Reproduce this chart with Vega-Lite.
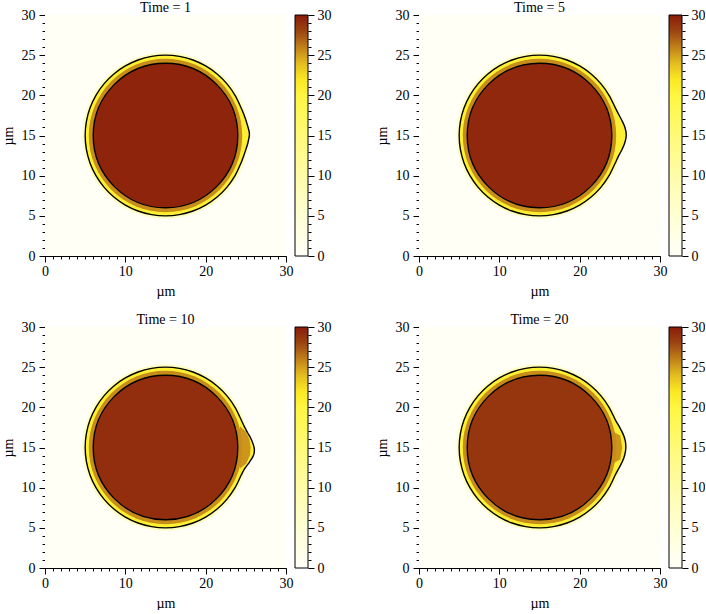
{
  "$schema": "https://vega.github.io/schema/vega-lite/v6.json",
  "background": "white",
  "padding": {"left": 1, "top": 1, "right": 0, "bottom": 0},
  "autosize": {"type": "pad"},
  "config": {
    "view": {"stroke": null},
    "font": "Liberation Serif",
    "axis": {"labelFont": "Liberation Serif", "labelFontSize": 14, "labelColor": "black", "titleFont": "Liberation Serif", "titleFontSize": 14, "titleFontWeight": "normal", "titleColor": "black", "tickColor": "black", "domainColor": "black", "grid": false, "labelFlush": false, "labelOverlap": false, "tickWidth": 1, "domainWidth": 1},
    "title": {"font": "Liberation Serif", "fontSize": 14, "fontWeight": "normal", "color": "black", "offset": -7, "frame": "group"}
  },
  "datasets": {
    "bg": [{"x0": 0, "x1": 30, "y0": 0, "y1": 30, "v": 0.4}],
    "cb": [{"lo": 0, "hi": 30, "xa": 0, "xb": 1}],
    "circ": [
      {"t": 1, "k": "halo", "cx": 15, "cy": 15, "r": 10.35, "v": 7},
      {"t": 1, "k": "band", "cx": 15, "cy": 15, "r": 9.55, "v": 25.6},
      {"t": 1, "k": "disk", "cx": 15, "cy": 15, "r": 9, "v": 29.6},
      {"t": 5, "k": "halo", "cx": 15, "cy": 15, "r": 10.35, "v": 7},
      {"t": 5, "k": "band", "cx": 15, "cy": 15, "r": 9.55, "v": 25.6},
      {"t": 5, "k": "disk", "cx": 15, "cy": 15, "r": 9, "v": 29.4},
      {"t": 10, "k": "halo", "cx": 15, "cy": 15, "r": 10.35, "v": 7},
      {"t": 10, "k": "band", "cx": 15, "cy": 15, "r": 9.55, "v": 25.6},
      {"t": 10, "k": "disk", "cx": 15, "cy": 15, "r": 9, "v": 29.1},
      {"t": 20, "k": "halo", "cx": 15, "cy": 15, "r": 10.35, "v": 7},
      {"t": 20, "k": "band", "cx": 15, "cy": 15, "r": 9.55, "v": 25.6},
      {"t": 20, "k": "disk", "cx": 15, "cy": 15, "r": 9, "v": 28.7}
    ],
    "patch": [
      {"t": 10, "o": 1, "px": 24.3, "py": 17.6},
      {"t": 10, "o": 2, "px": 25.0, "py": 17.0},
      {"t": 10, "o": 3, "px": 25.45, "py": 16.0},
      {"t": 10, "o": 4, "px": 25.6, "py": 15.0},
      {"t": 10, "o": 5, "px": 25.5, "py": 14.0},
      {"t": 10, "o": 6, "px": 25.05, "py": 13.0},
      {"t": 10, "o": 7, "px": 24.3, "py": 12.4},
      {"t": 10, "o": 8, "px": 23.8, "py": 15.0},
      {"t": 20, "o": 1, "px": 24.3, "py": 16.9},
      {"t": 20, "o": 2, "px": 25.05, "py": 16.5},
      {"t": 20, "o": 3, "px": 25.3, "py": 15.0},
      {"t": 20, "o": 4, "px": 25.05, "py": 13.5},
      {"t": 20, "o": 5, "px": 24.3, "py": 13.1},
      {"t": 20, "o": 6, "px": 23.8, "py": 15.0}
    ],
    "outline": [
      {"t": 0, "o": 30, "px": 23.66, "py": 20.0},
      {"t": 0, "o": 40, "px": 22.66, "py": 21.43},
      {"t": 0, "o": 50, "px": 21.43, "py": 22.66},
      {"t": 0, "o": 60, "px": 20.0, "py": 23.66},
      {"t": 0, "o": 70, "px": 18.42, "py": 24.4},
      {"t": 0, "o": 80, "px": 16.74, "py": 24.85},
      {"t": 0, "o": 90, "px": 15.0, "py": 25.0},
      {"t": 0, "o": 100, "px": 13.26, "py": 24.85},
      {"t": 0, "o": 110, "px": 11.58, "py": 24.4},
      {"t": 0, "o": 120, "px": 10.0, "py": 23.66},
      {"t": 0, "o": 130, "px": 8.57, "py": 22.66},
      {"t": 0, "o": 140, "px": 7.34, "py": 21.43},
      {"t": 0, "o": 150, "px": 6.34, "py": 20.0},
      {"t": 0, "o": 160, "px": 5.6, "py": 18.42},
      {"t": 0, "o": 170, "px": 5.15, "py": 16.74},
      {"t": 0, "o": 180, "px": 5.0, "py": 15.0},
      {"t": 0, "o": 190, "px": 5.15, "py": 13.26},
      {"t": 0, "o": 200, "px": 5.6, "py": 11.58},
      {"t": 0, "o": 210, "px": 6.34, "py": 10.0},
      {"t": 0, "o": 220, "px": 7.34, "py": 8.57},
      {"t": 0, "o": 230, "px": 8.57, "py": 7.34},
      {"t": 0, "o": 240, "px": 10.0, "py": 6.34},
      {"t": 0, "o": 250, "px": 11.58, "py": 5.6},
      {"t": 0, "o": 260, "px": 13.26, "py": 5.15},
      {"t": 0, "o": 270, "px": 15.0, "py": 5.0},
      {"t": 0, "o": 280, "px": 16.74, "py": 5.15},
      {"t": 0, "o": 290, "px": 18.42, "py": 5.6},
      {"t": 0, "o": 300, "px": 20.0, "py": 6.34},
      {"t": 0, "o": 310, "px": 21.43, "py": 7.34},
      {"t": 0, "o": 320, "px": 22.66, "py": 8.57},
      {"t": 0, "o": 330, "px": 23.66, "py": 10.0},
      {"t": 1, "o": 0, "px": 25.45, "py": 15.15},
      {"t": 1, "o": 5, "px": 25.31, "py": 15.9},
      {"t": 1, "o": 10, "px": 25.05, "py": 16.77},
      {"t": 1, "o": 15, "px": 24.76, "py": 17.61},
      {"t": 1, "o": 20, "px": 24.42, "py": 18.43},
      {"t": 1, "o": 340, "px": 24.4, "py": 11.58},
      {"t": 1, "o": 345, "px": 24.71, "py": 12.4},
      {"t": 1, "o": 350, "px": 25.0, "py": 13.24},
      {"t": 1, "o": 355, "px": 25.26, "py": 14.1},
      {"t": 5, "o": 0, "px": 25.8, "py": 15.0},
      {"t": 5, "o": 5, "px": 25.66, "py": 15.93},
      {"t": 5, "o": 10, "px": 25.29, "py": 16.81},
      {"t": 5, "o": 15, "px": 24.85, "py": 17.64},
      {"t": 5, "o": 20, "px": 24.44, "py": 18.44},
      {"t": 5, "o": 340, "px": 24.43, "py": 11.57},
      {"t": 5, "o": 345, "px": 24.8, "py": 12.37},
      {"t": 5, "o": 350, "px": 25.24, "py": 13.19},
      {"t": 5, "o": 355, "px": 25.61, "py": 14.07},
      {"t": 10, "o": 0, "px": 26.05, "py": 14.9},
      {"t": 10, "o": 5, "px": 25.71, "py": 15.94},
      {"t": 10, "o": 10, "px": 25.24, "py": 16.81},
      {"t": 10, "o": 15, "px": 24.8, "py": 17.63},
      {"t": 10, "o": 20, "px": 24.43, "py": 18.43},
      {"t": 10, "o": 340, "px": 24.43, "py": 11.57},
      {"t": 10, "o": 345, "px": 24.85, "py": 12.36},
      {"t": 10, "o": 350, "px": 25.44, "py": 13.16},
      {"t": 10, "o": 355, "px": 25.96, "py": 14.04},
      {"t": 20, "o": 0, "px": 25.75, "py": 15.0},
      {"t": 20, "o": 5, "px": 25.66, "py": 15.93},
      {"t": 20, "o": 10, "px": 25.34, "py": 16.82},
      {"t": 20, "o": 15, "px": 24.9, "py": 17.65},
      {"t": 20, "o": 20, "px": 24.44, "py": 18.44},
      {"t": 20, "o": 340, "px": 24.43, "py": 11.57},
      {"t": 20, "o": 345, "px": 24.85, "py": 12.36},
      {"t": 20, "o": 350, "px": 25.29, "py": 13.19},
      {"t": 20, "o": 355, "px": 25.61, "py": 14.07}
    ]
  },
  "columns": 2,
  "spacing": {"row": 71, "column": 133},
  "bounds": "flush",
  "concat": [
    {
      "width": 241, "height": 241,
      "title": "Time = 1",
      "resolve": {"scale": {"x": "independent"}, "axis": {"x": "independent", "y": "independent"}},
      "layer": [
        {
          "resolve": {"axis": {"x": "independent", "y": "independent"}},
          "layer": [
            {"data": {"name": "bg"}, "mark": {"type": "rect", "strokeWidth": 0},
             "encoding": {
               "x": {"field": "x0", "type": "quantitative", "scale": {"domain": [0, 30], "nice": false, "zero": false}, "axis": {"orient": "bottom", "values": [0,1,2,3,4,5,6,7,8,9,10,11,12,13,14,15,16,17,18,19,20,21,22,23,24,25,26,27,28,29,30], "labels": false, "domain": false, "tickSize": 3, "title": null}},
               "x2": {"field": "x1"},
               "y": {"field": "y0", "type": "quantitative", "scale": {"domain": [0, 30], "nice": false, "zero": false}, "axis": {"orient": "left", "values": [0,1,2,3,4,5,6,7,8,9,10,11,12,13,14,15,16,17,18,19,20,21,22,23,24,25,26,27,28,29,30], "labels": false, "domain": false, "tickSize": 3, "title": null}},
               "y2": {"field": "y1"},
               "color": {"field": "v", "type": "quantitative", "legend": null, "scale": {"type": "linear", "domain": [0,5,10,15,20,22,24,26,28,30], "range": ["#fffff8","#ffffd4","#fffca8","#fffa78","#fff640","#fbe822","#e4bc20","#c08018","#9c4412","#8a1c0a"], "interpolate": "rgb", "clamp": true}}}},
            {"data": {"name": "circ"}, "transform": [{"filter": "datum.t == 1 && datum.k == 'halo'"}],
             "mark": {"type": "point", "shape": "circle", "filled": true, "opacity": 1, "strokeWidth": 0},
             "encoding": {
               "x": {"field": "cx", "type": "quantitative", "axis": {"orient": "bottom", "values": [0,10,20,30], "tickSize": 6, "labelPadding": 2, "title": "µm", "titlePadding": 6}},
               "y": {"field": "cy", "type": "quantitative", "axis": {"orient": "left", "values": [0,5,10,15,20,25,30], "tickSize": 6, "labelPadding": 4, "title": "µm", "titlePadding": 6}},
               "size": {"field": "r", "type": "quantitative", "legend": null, "scale": {"type": "pow", "exponent": 2, "domain": [0, 10], "range": [0, 25814]}},
               "color": {"field": "v", "type": "quantitative", "legend": null}}},
            {"data": {"name": "outline"}, "transform": [{"filter": "datum.t == 0 || datum.t == 1"}],
             "mark": {"type": "line", "filled": true, "interpolate": "cardinal-closed", "strokeWidth": 0},
             "encoding": {
               "x": {"field": "px", "type": "quantitative", "axis": null},
               "y": {"field": "py", "type": "quantitative", "axis": null},
               "order": {"field": "o", "type": "quantitative"},
               "color": {"datum": 21, "type": "quantitative", "legend": null}}},
            {"data": {"name": "patch"}, "transform": [{"filter": "datum.t == 1"}],
             "mark": {"type": "line", "filled": true, "interpolate": "linear-closed", "strokeWidth": 0},
             "encoding": {
               "x": {"field": "px", "type": "quantitative", "axis": null},
               "y": {"field": "py", "type": "quantitative", "axis": null},
               "order": {"field": "o", "type": "quantitative"},
               "color": {"datum": 25.3, "type": "quantitative", "legend": null}}},
            {"data": {"name": "circ"}, "transform": [{"filter": "datum.t == 1 && datum.k != 'halo'"}],
             "mark": {"type": "point", "shape": "circle", "filled": true, "opacity": 1, "strokeWidth": 0},
             "encoding": {
               "x": {"field": "cx", "type": "quantitative", "axis": null},
               "y": {"field": "cy", "type": "quantitative", "axis": null},
               "size": {"field": "r", "type": "quantitative", "legend": null},
               "color": {"field": "v", "type": "quantitative", "legend": null},
               "order": {"field": "r", "type": "quantitative", "sort": "descending"}}},
            {"data": {"name": "circ"}, "transform": [{"filter": "datum.t == 1 && datum.k == 'disk'"}],
             "mark": {"type": "point", "shape": "circle", "filled": false, "opacity": 1, "color": "black", "strokeWidth": 1.4},
             "encoding": {
               "x": {"field": "cx", "type": "quantitative", "axis": null},
               "y": {"field": "cy", "type": "quantitative", "axis": null},
               "size": {"field": "r", "type": "quantitative", "legend": null}}},
            {"data": {"name": "outline"}, "transform": [{"filter": "datum.t == 0 || datum.t == 1"}],
             "mark": {"type": "line", "interpolate": "cardinal-closed", "color": "black", "strokeWidth": 1.4},
             "encoding": {
               "x": {"field": "px", "type": "quantitative", "axis": null},
               "y": {"field": "py", "type": "quantitative", "axis": null},
               "order": {"field": "o", "type": "quantitative"}}}
          ]
        },
        {
          "data": {"name": "cb"},
          "resolve": {"axis": {"y": "independent"}},
          "layer": [
            {"mark": {"type": "rect", "stroke": "black", "strokeWidth": 1, "fill": {"gradient": "linear", "x1": 0, "y1": 1, "x2": 0, "y2": 0, "stops": [{"offset": 0, "color": "#fffff8"}, {"offset": 0.1667, "color": "#ffffd4"}, {"offset": 0.3333, "color": "#fffca8"}, {"offset": 0.5, "color": "#fffa78"}, {"offset": 0.6667, "color": "#fff640"}, {"offset": 0.7333, "color": "#fbe822"}, {"offset": 0.8, "color": "#e4bc20"}, {"offset": 0.8667, "color": "#c08018"}, {"offset": 0.9333, "color": "#9c4412"}, {"offset": 1, "color": "#8a1c0a"}]}},
             "encoding": {
               "x": {"field": "xa", "type": "quantitative", "scale": {"domain": [0, 1], "range": [250, 263]}, "axis": null},
               "x2": {"field": "xb"},
               "y": {"field": "lo", "type": "quantitative", "axis": {"orient": "right", "offset": 22, "values": [0,5,10,15,20,25,30], "tickSize": 6, "labelPadding": 3, "domain": false, "title": null}},
               "y2": {"field": "hi"}}},
            {"mark": {"type": "rect", "opacity": 0},
             "encoding": {
               "x": {"field": "xa", "type": "quantitative", "axis": null},
               "x2": {"field": "xb"},
               "y": {"field": "lo", "type": "quantitative", "axis": {"orient": "right", "offset": 22, "values": [0,1,2,3,4,5,6,7,8,9,10,11,12,13,14,15,16,17,18,19,20,21,22,23,24,25,26,27,28,29,30], "tickSize": 3, "labels": false, "domain": false, "title": null}},
               "y2": {"field": "hi"}}}
          ]
        }
      ]
    },
    {
      "width": 241, "height": 241,
      "title": "Time = 5",
      "resolve": {"scale": {"x": "independent"}, "axis": {"x": "independent", "y": "independent"}},
      "layer": [
        {
          "resolve": {"axis": {"x": "independent", "y": "independent"}},
          "layer": [
            {"data": {"name": "bg"}, "mark": {"type": "rect", "strokeWidth": 0},
             "encoding": {
               "x": {"field": "x0", "type": "quantitative", "scale": {"domain": [0, 30], "nice": false, "zero": false}, "axis": {"orient": "bottom", "values": [0,1,2,3,4,5,6,7,8,9,10,11,12,13,14,15,16,17,18,19,20,21,22,23,24,25,26,27,28,29,30], "labels": false, "domain": false, "tickSize": 3, "title": null}},
               "x2": {"field": "x1"},
               "y": {"field": "y0", "type": "quantitative", "scale": {"domain": [0, 30], "nice": false, "zero": false}, "axis": {"orient": "left", "values": [0,1,2,3,4,5,6,7,8,9,10,11,12,13,14,15,16,17,18,19,20,21,22,23,24,25,26,27,28,29,30], "labels": false, "domain": false, "tickSize": 3, "title": null}},
               "y2": {"field": "y1"},
               "color": {"field": "v", "type": "quantitative", "legend": null, "scale": {"type": "linear", "domain": [0,5,10,15,20,22,24,26,28,30], "range": ["#fffff8","#ffffd4","#fffca8","#fffa78","#fff640","#fbe822","#e4bc20","#c08018","#9c4412","#8a1c0a"], "interpolate": "rgb", "clamp": true}}}},
            {"data": {"name": "circ"}, "transform": [{"filter": "datum.t == 5 && datum.k == 'halo'"}],
             "mark": {"type": "point", "shape": "circle", "filled": true, "opacity": 1, "strokeWidth": 0},
             "encoding": {
               "x": {"field": "cx", "type": "quantitative", "axis": {"orient": "bottom", "values": [0,10,20,30], "tickSize": 6, "labelPadding": 2, "title": "µm", "titlePadding": 6}},
               "y": {"field": "cy", "type": "quantitative", "axis": {"orient": "left", "values": [0,5,10,15,20,25,30], "tickSize": 6, "labelPadding": 4, "title": "µm", "titlePadding": 6}},
               "size": {"field": "r", "type": "quantitative", "legend": null, "scale": {"type": "pow", "exponent": 2, "domain": [0, 10], "range": [0, 25814]}},
               "color": {"field": "v", "type": "quantitative", "legend": null}}},
            {"data": {"name": "outline"}, "transform": [{"filter": "datum.t == 0 || datum.t == 5"}],
             "mark": {"type": "line", "filled": true, "interpolate": "cardinal-closed", "strokeWidth": 0},
             "encoding": {
               "x": {"field": "px", "type": "quantitative", "axis": null},
               "y": {"field": "py", "type": "quantitative", "axis": null},
               "order": {"field": "o", "type": "quantitative"},
               "color": {"datum": 21, "type": "quantitative", "legend": null}}},
            {"data": {"name": "patch"}, "transform": [{"filter": "datum.t == 5"}],
             "mark": {"type": "line", "filled": true, "interpolate": "linear-closed", "strokeWidth": 0},
             "encoding": {
               "x": {"field": "px", "type": "quantitative", "axis": null},
               "y": {"field": "py", "type": "quantitative", "axis": null},
               "order": {"field": "o", "type": "quantitative"},
               "color": {"datum": 25.3, "type": "quantitative", "legend": null}}},
            {"data": {"name": "circ"}, "transform": [{"filter": "datum.t == 5 && datum.k != 'halo'"}],
             "mark": {"type": "point", "shape": "circle", "filled": true, "opacity": 1, "strokeWidth": 0},
             "encoding": {
               "x": {"field": "cx", "type": "quantitative", "axis": null},
               "y": {"field": "cy", "type": "quantitative", "axis": null},
               "size": {"field": "r", "type": "quantitative", "legend": null},
               "color": {"field": "v", "type": "quantitative", "legend": null},
               "order": {"field": "r", "type": "quantitative", "sort": "descending"}}},
            {"data": {"name": "circ"}, "transform": [{"filter": "datum.t == 5 && datum.k == 'disk'"}],
             "mark": {"type": "point", "shape": "circle", "filled": false, "opacity": 1, "color": "black", "strokeWidth": 1.4},
             "encoding": {
               "x": {"field": "cx", "type": "quantitative", "axis": null},
               "y": {"field": "cy", "type": "quantitative", "axis": null},
               "size": {"field": "r", "type": "quantitative", "legend": null}}},
            {"data": {"name": "outline"}, "transform": [{"filter": "datum.t == 0 || datum.t == 5"}],
             "mark": {"type": "line", "interpolate": "cardinal-closed", "color": "black", "strokeWidth": 1.4},
             "encoding": {
               "x": {"field": "px", "type": "quantitative", "axis": null},
               "y": {"field": "py", "type": "quantitative", "axis": null},
               "order": {"field": "o", "type": "quantitative"}}}
          ]
        },
        {
          "data": {"name": "cb"},
          "resolve": {"axis": {"y": "independent"}},
          "layer": [
            {"mark": {"type": "rect", "stroke": "black", "strokeWidth": 1, "fill": {"gradient": "linear", "x1": 0, "y1": 1, "x2": 0, "y2": 0, "stops": [{"offset": 0, "color": "#fffff8"}, {"offset": 0.1667, "color": "#ffffd4"}, {"offset": 0.3333, "color": "#fffca8"}, {"offset": 0.5, "color": "#fffa78"}, {"offset": 0.6667, "color": "#fff640"}, {"offset": 0.7333, "color": "#fbe822"}, {"offset": 0.8, "color": "#e4bc20"}, {"offset": 0.8667, "color": "#c08018"}, {"offset": 0.9333, "color": "#9c4412"}, {"offset": 1, "color": "#8a1c0a"}]}},
             "encoding": {
               "x": {"field": "xa", "type": "quantitative", "scale": {"domain": [0, 1], "range": [250, 263]}, "axis": null},
               "x2": {"field": "xb"},
               "y": {"field": "lo", "type": "quantitative", "axis": {"orient": "right", "offset": 22, "values": [0,5,10,15,20,25,30], "tickSize": 6, "labelPadding": 3, "domain": false, "title": null}},
               "y2": {"field": "hi"}}},
            {"mark": {"type": "rect", "opacity": 0},
             "encoding": {
               "x": {"field": "xa", "type": "quantitative", "axis": null},
               "x2": {"field": "xb"},
               "y": {"field": "lo", "type": "quantitative", "axis": {"orient": "right", "offset": 22, "values": [0,1,2,3,4,5,6,7,8,9,10,11,12,13,14,15,16,17,18,19,20,21,22,23,24,25,26,27,28,29,30], "tickSize": 3, "labels": false, "domain": false, "title": null}},
               "y2": {"field": "hi"}}}
          ]
        }
      ]
    },
    {
      "width": 241, "height": 241,
      "title": "Time = 10",
      "resolve": {"scale": {"x": "independent"}, "axis": {"x": "independent", "y": "independent"}},
      "layer": [
        {
          "resolve": {"axis": {"x": "independent", "y": "independent"}},
          "layer": [
            {"data": {"name": "bg"}, "mark": {"type": "rect", "strokeWidth": 0},
             "encoding": {
               "x": {"field": "x0", "type": "quantitative", "scale": {"domain": [0, 30], "nice": false, "zero": false}, "axis": {"orient": "bottom", "values": [0,1,2,3,4,5,6,7,8,9,10,11,12,13,14,15,16,17,18,19,20,21,22,23,24,25,26,27,28,29,30], "labels": false, "domain": false, "tickSize": 3, "title": null}},
               "x2": {"field": "x1"},
               "y": {"field": "y0", "type": "quantitative", "scale": {"domain": [0, 30], "nice": false, "zero": false}, "axis": {"orient": "left", "values": [0,1,2,3,4,5,6,7,8,9,10,11,12,13,14,15,16,17,18,19,20,21,22,23,24,25,26,27,28,29,30], "labels": false, "domain": false, "tickSize": 3, "title": null}},
               "y2": {"field": "y1"},
               "color": {"field": "v", "type": "quantitative", "legend": null, "scale": {"type": "linear", "domain": [0,5,10,15,20,22,24,26,28,30], "range": ["#fffff8","#ffffd4","#fffca8","#fffa78","#fff640","#fbe822","#e4bc20","#c08018","#9c4412","#8a1c0a"], "interpolate": "rgb", "clamp": true}}}},
            {"data": {"name": "circ"}, "transform": [{"filter": "datum.t == 10 && datum.k == 'halo'"}],
             "mark": {"type": "point", "shape": "circle", "filled": true, "opacity": 1, "strokeWidth": 0},
             "encoding": {
               "x": {"field": "cx", "type": "quantitative", "axis": {"orient": "bottom", "values": [0,10,20,30], "tickSize": 6, "labelPadding": 2, "title": "µm", "titlePadding": 6}},
               "y": {"field": "cy", "type": "quantitative", "axis": {"orient": "left", "values": [0,5,10,15,20,25,30], "tickSize": 6, "labelPadding": 4, "title": "µm", "titlePadding": 6}},
               "size": {"field": "r", "type": "quantitative", "legend": null, "scale": {"type": "pow", "exponent": 2, "domain": [0, 10], "range": [0, 25814]}},
               "color": {"field": "v", "type": "quantitative", "legend": null}}},
            {"data": {"name": "outline"}, "transform": [{"filter": "datum.t == 0 || datum.t == 10"}],
             "mark": {"type": "line", "filled": true, "interpolate": "cardinal-closed", "strokeWidth": 0},
             "encoding": {
               "x": {"field": "px", "type": "quantitative", "axis": null},
               "y": {"field": "py", "type": "quantitative", "axis": null},
               "order": {"field": "o", "type": "quantitative"},
               "color": {"datum": 21, "type": "quantitative", "legend": null}}},
            {"data": {"name": "patch"}, "transform": [{"filter": "datum.t == 10"}],
             "mark": {"type": "line", "filled": true, "interpolate": "linear-closed", "strokeWidth": 0},
             "encoding": {
               "x": {"field": "px", "type": "quantitative", "axis": null},
               "y": {"field": "py", "type": "quantitative", "axis": null},
               "order": {"field": "o", "type": "quantitative"},
               "color": {"datum": 25.3, "type": "quantitative", "legend": null}}},
            {"data": {"name": "circ"}, "transform": [{"filter": "datum.t == 10 && datum.k != 'halo'"}],
             "mark": {"type": "point", "shape": "circle", "filled": true, "opacity": 1, "strokeWidth": 0},
             "encoding": {
               "x": {"field": "cx", "type": "quantitative", "axis": null},
               "y": {"field": "cy", "type": "quantitative", "axis": null},
               "size": {"field": "r", "type": "quantitative", "legend": null},
               "color": {"field": "v", "type": "quantitative", "legend": null},
               "order": {"field": "r", "type": "quantitative", "sort": "descending"}}},
            {"data": {"name": "circ"}, "transform": [{"filter": "datum.t == 10 && datum.k == 'disk'"}],
             "mark": {"type": "point", "shape": "circle", "filled": false, "opacity": 1, "color": "black", "strokeWidth": 1.4},
             "encoding": {
               "x": {"field": "cx", "type": "quantitative", "axis": null},
               "y": {"field": "cy", "type": "quantitative", "axis": null},
               "size": {"field": "r", "type": "quantitative", "legend": null}}},
            {"data": {"name": "outline"}, "transform": [{"filter": "datum.t == 0 || datum.t == 10"}],
             "mark": {"type": "line", "interpolate": "cardinal-closed", "color": "black", "strokeWidth": 1.4},
             "encoding": {
               "x": {"field": "px", "type": "quantitative", "axis": null},
               "y": {"field": "py", "type": "quantitative", "axis": null},
               "order": {"field": "o", "type": "quantitative"}}}
          ]
        },
        {
          "data": {"name": "cb"},
          "resolve": {"axis": {"y": "independent"}},
          "layer": [
            {"mark": {"type": "rect", "stroke": "black", "strokeWidth": 1, "fill": {"gradient": "linear", "x1": 0, "y1": 1, "x2": 0, "y2": 0, "stops": [{"offset": 0, "color": "#fffff8"}, {"offset": 0.1667, "color": "#ffffd4"}, {"offset": 0.3333, "color": "#fffca8"}, {"offset": 0.5, "color": "#fffa78"}, {"offset": 0.6667, "color": "#fff640"}, {"offset": 0.7333, "color": "#fbe822"}, {"offset": 0.8, "color": "#e4bc20"}, {"offset": 0.8667, "color": "#c08018"}, {"offset": 0.9333, "color": "#9c4412"}, {"offset": 1, "color": "#8a1c0a"}]}},
             "encoding": {
               "x": {"field": "xa", "type": "quantitative", "scale": {"domain": [0, 1], "range": [250, 263]}, "axis": null},
               "x2": {"field": "xb"},
               "y": {"field": "lo", "type": "quantitative", "axis": {"orient": "right", "offset": 22, "values": [0,5,10,15,20,25,30], "tickSize": 6, "labelPadding": 3, "domain": false, "title": null}},
               "y2": {"field": "hi"}}},
            {"mark": {"type": "rect", "opacity": 0},
             "encoding": {
               "x": {"field": "xa", "type": "quantitative", "axis": null},
               "x2": {"field": "xb"},
               "y": {"field": "lo", "type": "quantitative", "axis": {"orient": "right", "offset": 22, "values": [0,1,2,3,4,5,6,7,8,9,10,11,12,13,14,15,16,17,18,19,20,21,22,23,24,25,26,27,28,29,30], "tickSize": 3, "labels": false, "domain": false, "title": null}},
               "y2": {"field": "hi"}}}
          ]
        }
      ]
    },
    {
      "width": 241, "height": 241,
      "title": "Time = 20",
      "resolve": {"scale": {"x": "independent"}, "axis": {"x": "independent", "y": "independent"}},
      "layer": [
        {
          "resolve": {"axis": {"x": "independent", "y": "independent"}},
          "layer": [
            {"data": {"name": "bg"}, "mark": {"type": "rect", "strokeWidth": 0},
             "encoding": {
               "x": {"field": "x0", "type": "quantitative", "scale": {"domain": [0, 30], "nice": false, "zero": false}, "axis": {"orient": "bottom", "values": [0,1,2,3,4,5,6,7,8,9,10,11,12,13,14,15,16,17,18,19,20,21,22,23,24,25,26,27,28,29,30], "labels": false, "domain": false, "tickSize": 3, "title": null}},
               "x2": {"field": "x1"},
               "y": {"field": "y0", "type": "quantitative", "scale": {"domain": [0, 30], "nice": false, "zero": false}, "axis": {"orient": "left", "values": [0,1,2,3,4,5,6,7,8,9,10,11,12,13,14,15,16,17,18,19,20,21,22,23,24,25,26,27,28,29,30], "labels": false, "domain": false, "tickSize": 3, "title": null}},
               "y2": {"field": "y1"},
               "color": {"field": "v", "type": "quantitative", "legend": null, "scale": {"type": "linear", "domain": [0,5,10,15,20,22,24,26,28,30], "range": ["#fffff8","#ffffd4","#fffca8","#fffa78","#fff640","#fbe822","#e4bc20","#c08018","#9c4412","#8a1c0a"], "interpolate": "rgb", "clamp": true}}}},
            {"data": {"name": "circ"}, "transform": [{"filter": "datum.t == 20 && datum.k == 'halo'"}],
             "mark": {"type": "point", "shape": "circle", "filled": true, "opacity": 1, "strokeWidth": 0},
             "encoding": {
               "x": {"field": "cx", "type": "quantitative", "axis": {"orient": "bottom", "values": [0,10,20,30], "tickSize": 6, "labelPadding": 2, "title": "µm", "titlePadding": 6}},
               "y": {"field": "cy", "type": "quantitative", "axis": {"orient": "left", "values": [0,5,10,15,20,25,30], "tickSize": 6, "labelPadding": 4, "title": "µm", "titlePadding": 6}},
               "size": {"field": "r", "type": "quantitative", "legend": null, "scale": {"type": "pow", "exponent": 2, "domain": [0, 10], "range": [0, 25814]}},
               "color": {"field": "v", "type": "quantitative", "legend": null}}},
            {"data": {"name": "outline"}, "transform": [{"filter": "datum.t == 0 || datum.t == 20"}],
             "mark": {"type": "line", "filled": true, "interpolate": "cardinal-closed", "strokeWidth": 0},
             "encoding": {
               "x": {"field": "px", "type": "quantitative", "axis": null},
               "y": {"field": "py", "type": "quantitative", "axis": null},
               "order": {"field": "o", "type": "quantitative"},
               "color": {"datum": 21, "type": "quantitative", "legend": null}}},
            {"data": {"name": "patch"}, "transform": [{"filter": "datum.t == 20"}],
             "mark": {"type": "line", "filled": true, "interpolate": "linear-closed", "strokeWidth": 0},
             "encoding": {
               "x": {"field": "px", "type": "quantitative", "axis": null},
               "y": {"field": "py", "type": "quantitative", "axis": null},
               "order": {"field": "o", "type": "quantitative"},
               "color": {"datum": 25.3, "type": "quantitative", "legend": null}}},
            {"data": {"name": "circ"}, "transform": [{"filter": "datum.t == 20 && datum.k != 'halo'"}],
             "mark": {"type": "point", "shape": "circle", "filled": true, "opacity": 1, "strokeWidth": 0},
             "encoding": {
               "x": {"field": "cx", "type": "quantitative", "axis": null},
               "y": {"field": "cy", "type": "quantitative", "axis": null},
               "size": {"field": "r", "type": "quantitative", "legend": null},
               "color": {"field": "v", "type": "quantitative", "legend": null},
               "order": {"field": "r", "type": "quantitative", "sort": "descending"}}},
            {"data": {"name": "circ"}, "transform": [{"filter": "datum.t == 20 && datum.k == 'disk'"}],
             "mark": {"type": "point", "shape": "circle", "filled": false, "opacity": 1, "color": "black", "strokeWidth": 1.4},
             "encoding": {
               "x": {"field": "cx", "type": "quantitative", "axis": null},
               "y": {"field": "cy", "type": "quantitative", "axis": null},
               "size": {"field": "r", "type": "quantitative", "legend": null}}},
            {"data": {"name": "outline"}, "transform": [{"filter": "datum.t == 0 || datum.t == 20"}],
             "mark": {"type": "line", "interpolate": "cardinal-closed", "color": "black", "strokeWidth": 1.4},
             "encoding": {
               "x": {"field": "px", "type": "quantitative", "axis": null},
               "y": {"field": "py", "type": "quantitative", "axis": null},
               "order": {"field": "o", "type": "quantitative"}}}
          ]
        },
        {
          "data": {"name": "cb"},
          "resolve": {"axis": {"y": "independent"}},
          "layer": [
            {"mark": {"type": "rect", "stroke": "black", "strokeWidth": 1, "fill": {"gradient": "linear", "x1": 0, "y1": 1, "x2": 0, "y2": 0, "stops": [{"offset": 0, "color": "#fffff8"}, {"offset": 0.1667, "color": "#ffffd4"}, {"offset": 0.3333, "color": "#fffca8"}, {"offset": 0.5, "color": "#fffa78"}, {"offset": 0.6667, "color": "#fff640"}, {"offset": 0.7333, "color": "#fbe822"}, {"offset": 0.8, "color": "#e4bc20"}, {"offset": 0.8667, "color": "#c08018"}, {"offset": 0.9333, "color": "#9c4412"}, {"offset": 1, "color": "#8a1c0a"}]}},
             "encoding": {
               "x": {"field": "xa", "type": "quantitative", "scale": {"domain": [0, 1], "range": [250, 263]}, "axis": null},
               "x2": {"field": "xb"},
               "y": {"field": "lo", "type": "quantitative", "axis": {"orient": "right", "offset": 22, "values": [0,5,10,15,20,25,30], "tickSize": 6, "labelPadding": 3, "domain": false, "title": null}},
               "y2": {"field": "hi"}}},
            {"mark": {"type": "rect", "opacity": 0},
             "encoding": {
               "x": {"field": "xa", "type": "quantitative", "axis": null},
               "x2": {"field": "xb"},
               "y": {"field": "lo", "type": "quantitative", "axis": {"orient": "right", "offset": 22, "values": [0,1,2,3,4,5,6,7,8,9,10,11,12,13,14,15,16,17,18,19,20,21,22,23,24,25,26,27,28,29,30], "tickSize": 3, "labels": false, "domain": false, "title": null}},
               "y2": {"field": "hi"}}}
          ]
        }
      ]
    }
  ]
}
